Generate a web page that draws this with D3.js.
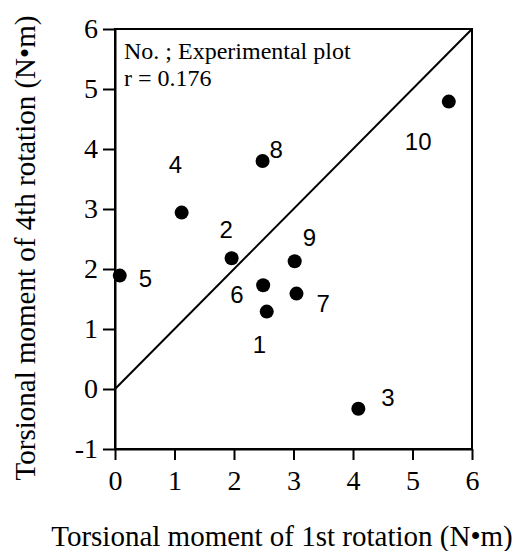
<!DOCTYPE html>
<html>
<head>
<meta charset="utf-8">
<script src="https://cdn.jsdelivr.net/npm/d3@7"></script>
<style>
  body { margin: 0; background: #fff; }
  svg { display: block; }
  .axis path, .axis line { stroke: #000; stroke-width: 2; }
  .axis text { font-family: "Liberation Serif", "Times New Roman", serif; font-size: 28px; fill: #000; }
</style>
</head>
<body>
<div id="chart"></div>
<script>
// Specimen numbers and the two torsional moments (N•m)
var specimen = ["1", "2", "3", "4", "5", "6", "7", "8", "9", "10"];
var firstRotation = [2.55, 1.96, 4.09, 1.12, 0.08, 2.49, 3.05, 2.48, 3.02, 5.61];
var fourthRotation = [1.29, 2.18, -0.33, 2.94, 1.89, 1.73, 1.59, 3.80, 2.13, 4.79];
var xTicks = [0, 1, 2, 3, 4, 5, 6];
var yTicks = [-1, 0, 1, 2, 3, 4, 5, 6];
var note = ["No. ; Experimental plot", "r = 0.176"];

// where each number sits relative to its dot (px)
var labelDx = [-14, -12, 23, -13, 19, -33, 20, 7, 8, -44];
var labelDy = [41, -20, -3, -40, 11, 18, 18, -3, -15, 48];

var width = 521, height = 551;
var margin = {top: 29, right: 49, bottom: 102, left: 115};
var w = width - margin.left - margin.right,
    h = height - margin.top - margin.bottom;

var x = d3.scaleLinear().domain([0, 6]).range([0, w]);
var y = d3.scaleLinear().domain([-1, 6]).range([h, 0]);

var svg = d3.select("#chart").append("svg")
    .attr("width", width)
    .attr("height", height);

var g = svg.append("g")
    .attr("transform", "translate(" + margin.left + "," + margin.top + ")");

// frame
g.append("rect")
    .attr("width", w).attr("height", h)
    .attr("fill", "none").attr("stroke", "#000").attr("stroke-width", 2);

// axes (plain hyphen for negatives, as in the original)
var fmt = function(d) { return String(d); };

g.append("g")
    .attr("class", "axis")
    .call(d3.axisLeft(y).tickValues(yTicks).tickFormat(fmt)
        .tickSize(12).tickSizeOuter(0).tickPadding(5));

g.append("g")
    .attr("class", "axis")
    .attr("transform", "translate(0," + h + ")")
    .call(d3.axisBottom(x).tickValues(xTicks).tickFormat(fmt)
        .tickSize(11).tickSizeOuter(0).tickPadding(10));

// line of equality
g.append("line")
    .attr("x1", x(0)).attr("y1", y(0))
    .attr("x2", x(6)).attr("y2", y(6))
    .attr("stroke", "#000").attr("stroke-width", 2);

// points
var data = specimen.map(function(s, i) {
    return {no: s, a: firstRotation[i], b: fourthRotation[i], dx: labelDx[i], dy: labelDy[i]};
});

g.selectAll("circle.pt")
    .data(data)
    .enter().append("circle")
    .attr("class", "pt")
    .attr("cx", function(d) { return x(d.a); })
    .attr("cy", function(d) { return y(d.b); })
    .attr("r", 7)
    .attr("fill", "#000");

g.selectAll("text.no")
    .data(data)
    .enter().append("text")
    .attr("class", "no")
    .attr("x", function(d) { return x(d.a) + d.dx; })
    .attr("y", function(d) { return y(d.b) + d.dy; })
    .attr("font-family", "'Liberation Sans', Arial, sans-serif")
    .attr("font-size", 24)
    .text(function(d) { return d.no; });

// note in the top-left corner
g.selectAll("text.note")
    .data(note)
    .enter().append("text")
    .attr("class", "note")
    .attr("x", 9)
    .attr("y", function(d, i) { return 30 + i * 27; })
    .attr("font-family", "'Liberation Serif', 'Times New Roman', serif")
    .attr("font-size", 24)
    .text(function(d) { return d; });

// axis titles
svg.append("text")
    .attr("x", 282)
    .attr("y", 546)
    .attr("text-anchor", "middle")
    .attr("font-family", "'Liberation Serif', 'Times New Roman', serif")
    .attr("font-size", 29)
    .text("Torsional moment of 1st rotation (N•m)");

svg.append("text")
    .attr("transform", "translate(35,248) rotate(-90)")
    .attr("text-anchor", "middle")
    .attr("font-family", "'Liberation Serif', 'Times New Roman', serif")
    .attr("font-size", 29)
    .text("Torsional moment of 4th rotation (N•m)");
</script>
</body>
</html>
